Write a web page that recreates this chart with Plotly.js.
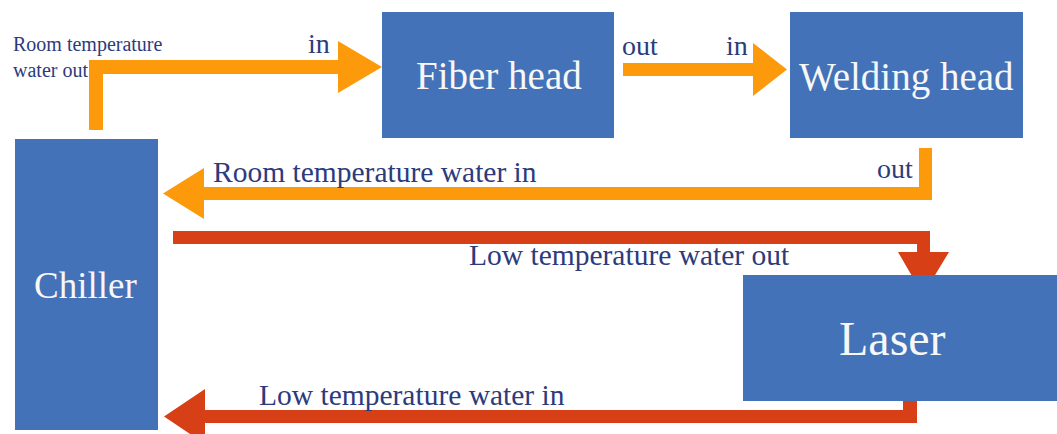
<!DOCTYPE html>
<html>
<head>
<meta charset="utf-8">
<script src="https://cdn.plot.ly/plotly-3.0.1.min.js"></script>
<style>html,body{margin:0;padding:0;background:#fff;}#chart{width:1057px;height:434px;}</style>
</head>
<body>
<div id="chart"></div>
<script>
// ---- diagram content ----
const boxLabels = ['Fiber head', 'Welding head', 'Chiller', 'Laser'];
const flowLabels = ['Room temperature water in', 'Low temperature water out', 'Low temperature water in'];
const portLabels = ['in', 'out', 'in', 'out'];
const sourceLabelLines = ['Room temperature', 'water out'];

// ---- geometry (pixel space of the 1057x434 canvas) ----
const boxX0 = [382, 790, 15, 743];
const boxX1 = [614, 1023, 158, 1060];
const boxY0 = [12, 12, 139, 275];
const boxY1 = [138, 138, 430, 401];
const boxTextX = [499, 906, 85, 892];
const boxTextBase = [89, 90, 298, 355];
const boxTextSize = [39, 39, 37, 48];

const flowTextX = [212, 468, 258];
const flowTextBase = [182, 265, 405];
const portTextX = [307, 621, 725, 876];
const portTextBase = [53, 55, 55, 178];
const srcTextMid = 64;

const BLUE = '#4472B8', ORANGE = '#FC9A0C', RED = '#D74016', NAVY = '#2C3B7C';
const FONT = 'Liberation Serif, Times New Roman, serif';

function poly(pts, color) {
  return {type: 'path', xref: 'x', yref: 'y', line: {width: 0}, fillcolor: color,
    path: 'M' + pts.map(p => p[0] + ',' + p[1]).join(' L') + ' Z'};
}
const shapes = [];
// 1. chiller -> fiber head (L shape)
shapes.push(poly([[89,130],[89,60],[338,60],[338,41],[382,67],[338,93],[338,74],[103,74],[103,130]], ORANGE));
// 2. fiber head -> welding head
shapes.push(poly([[623,63],[753,63],[753,43],[787,69.5],[753,96],[753,76],[623,76]], ORANGE));
// 3. welding head -> chiller
shapes.push(poly([[932,148],[932,200],[204,200],[204,219],[163,193.5],[204,168],[204,187],[919,187],[919,148]], ORANGE));
// 4. chiller -> laser
shapes.push(poly([[173,231],[930,231],[930,252],[949,252],[923,295],[898,252],[917,252],[917,244],[173,244]], RED));
// 5. laser -> chiller
shapes.push(poly([[917,401],[917,423],[205,423],[205,444],[164,416.5],[205,389],[205,410],[903,410],[903,401]], RED));
// boxes
for (let i = 0; i < boxLabels.length; i++) {
  shapes.push({type: 'rect', xref: 'x', yref: 'y', x0: boxX0[i], x1: boxX1[i], y0: boxY0[i], y1: boxY1[i],
    fillcolor: BLUE, line: {width: 0}, layer: 'above'});
}

// annotation helper: place by baseline
function txt(text, x, base, size, color, xanchor) {
  return {text: text, x: x, y: base - 0.3375 * size, xref: 'x', yref: 'y', showarrow: false,
    xanchor: xanchor || 'left', yanchor: 'middle', borderpad: 0,
    font: {family: FONT, size: size, color: color}};
}
const annotations = [];
boxLabels.forEach((t, i) => annotations.push(txt(t, boxTextX[i], boxTextBase[i], boxTextSize[i], '#F7F7F7', 'center')));
flowLabels.forEach((t, i) => annotations.push(txt(t, flowTextX[i], flowTextBase[i], 29.5, NAVY)));
portLabels.forEach((t, i) => annotations.push(txt(t, portTextX[i], portTextBase[i], 28, NAVY)));
// two-line source label as one wrapped text
const src = txt(sourceLabelLines.join('<br>'), 12, srcTextMid, 20, NAVY);
src.align = 'left';
annotations.push(src);

const layout = {
  width: 1057, height: 434,
  margin: {l: 0, r: 0, t: 0, b: 0},
  paper_bgcolor: '#FFFFFF', plot_bgcolor: '#FFFFFF',
  xaxis: {range: [0, 1057], visible: false, fixedrange: true},
  yaxis: {range: [434, 0], visible: false, fixedrange: true},
  shapes: shapes, annotations: annotations, showlegend: false
};
Plotly.newPlot('chart', [{x: [0], y: [0], mode: 'markers', marker: {opacity: 0}, hoverinfo: 'skip'}], layout, {displayModeBar: false, staticPlot: true});
</script>
</body>
</html>
